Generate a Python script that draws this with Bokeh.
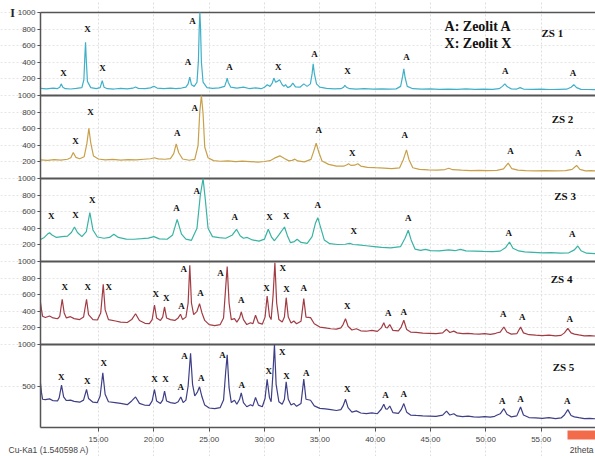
from bokeh.plotting import figure
from bokeh.models import FixedTicker, Label, ColumnDataSource, NumeralTickFormatter
from bokeh.core.properties import value
from bokeh.embed import file_html
from bokeh.resources import INLINE

# ---------------- data ----------------
x_ticks = [15, 20, 25, 30, 35, 40, 45, 50, 55]
y_ticks_panel = [200, 400, 600, 800, 1000]
y_ticks_last = [500, 1000]
samples = ["ZS 1", "ZS 2", "ZS 3", "ZS 4", "ZS 5"]
line_colors = ["#3fb0c8", "#c9a04a", "#38b3a4", "#a23c44", "#3e3f86"]
two_theta_min, two_theta_max = 9.76, 59.91

# (2theta, intensity)
zs1 = [(9.76, 85), (10.3, 80), (10.9, 88), (11.3, 84), (11.5, 100), (11.63, 140), (11.78, 100),
       (12.0, 82), (12.5, 78), (13.0, 85), (13.5, 95), (13.68, 190), (13.76, 450), (13.83, 640),
       (13.9, 420), (14.0, 170), (14.3, 95), (14.8, 82), (15.15, 95), (15.34, 180), (15.5, 100),
       (15.8, 82), (16.4, 78), (17.0, 85), (17.6, 80), (18.1, 88), (18.35, 102), (18.6, 86),
       (19.2, 82), (19.7, 92), (20.0, 112), (20.3, 90), (20.9, 82), (21.5, 88), (22.0, 84),
       (22.5, 90), (22.9, 100), (23.1, 140), (23.25, 220), (23.4, 130), (23.65, 110), (23.9, 160),
       (24.03, 420), (24.1, 800), (24.16, 1000), (24.22, 820), (24.3, 400), (24.45, 160),
       (24.8, 95), (25.3, 85), (25.9, 92), (26.4, 110), (26.55, 170), (26.63, 210), (26.72, 160),
       (26.95, 100), (27.5, 88), (28.1, 100), (28.6, 84), (29.2, 92), (29.7, 82), (30.0, 100),
       (30.25, 130), (30.5, 110), (30.7, 150), (30.85, 210), (31.0, 160), (31.15, 170),
       (31.36, 190), (31.6, 130), (31.75, 110), (31.9, 130), (32.1, 95), (32.35, 110),
       (32.56, 150), (32.8, 105), (33.2, 100), (33.55, 140), (33.85, 110), (34.15, 140),
       (34.3, 260), (34.4, 382), (34.5, 270), (34.7, 140), (35.0, 100), (35.6, 85), (36.3, 80),
       (36.9, 82), (37.15, 100), (37.26, 122), (37.4, 100), (37.7, 82), (38.3, 78), (39.0, 82),
       (39.8, 76), (40.6, 80), (41.3, 76), (41.9, 80), (42.3, 110), (42.48, 230), (42.59, 320),
       (42.7, 220), (42.9, 110), (43.4, 82), (44.2, 76), (45.0, 80), (45.8, 74), (46.6, 78),
       (47.4, 74), (48.2, 80), (49.0, 74), (49.8, 76), (50.6, 74), (51.2, 82), (51.5, 110),
       (51.72, 140), (51.95, 105), (52.3, 80), (52.8, 78), (53.1, 95), (53.4, 78), (54.2, 74),
       (55.0, 76), (55.8, 72), (56.6, 74), (57.3, 76), (57.7, 100), (57.95, 130), (58.2, 95),
       (58.6, 74), (59.2, 72), (59.9, 70)]

zs2 = [(9.76, 225), (10.4, 218), (11.0, 228), (11.6, 222), (12.2, 232), (12.5, 250), (12.72, 313),
       (12.95, 255), (13.3, 238), (13.7, 262), (13.95, 420), (14.13, 606), (14.3, 430),
       (14.55, 270), (15.0, 235), (15.6, 225), (16.3, 230), (17.0, 222), (17.7, 228), (18.4, 224),
       (19.1, 232), (19.7, 238), (20.05, 250), (20.4, 236), (21.0, 232), (21.5, 240), (21.8, 300),
       (22.02, 418), (22.25, 310), (22.6, 235), (23.2, 220), (23.7, 230), (24.0, 400),
       (24.15, 800), (24.3, 1000), (24.45, 780), (24.6, 380), (24.9, 250), (25.4, 215),
       (26.0, 208), (26.7, 212), (27.4, 204), (28.0, 210), (28.7, 204), (29.4, 198), (30.0, 205),
       (30.5, 215), (30.9, 245), (31.39, 273), (31.8, 240), (32.2, 212), (32.5, 218),
       (32.75, 233), (33.0, 212), (33.6, 200), (34.2, 230), (34.45, 330), (34.67, 425),
       (34.9, 320), (35.2, 210), (35.8, 170), (36.5, 150), (37.2, 150), (37.45, 165),
       (37.6, 177), (37.8, 158), (38.15, 160), (38.43, 177), (38.7, 150), (39.3, 135),
       (40.0, 130), (40.8, 125), (41.5, 120), (42.2, 128), (42.55, 230), (42.83, 345),
       (43.05, 230), (43.4, 130), (44.0, 110), (44.8, 104), (45.6, 100), (46.3, 108),
       (46.66, 124), (47.0, 106), (47.8, 100), (48.6, 96), (49.4, 98), (50.2, 94), (51.0, 98),
       (51.6, 115), (52.02, 185), (52.35, 118), (52.9, 100), (53.6, 95), (54.5, 92), (55.4, 96),
       (56.3, 92), (57.2, 94), (57.8, 110), (58.2, 157), (58.5, 110), (59.0, 92), (59.5, 95),
       (59.9, 92)]

zs3 = [(9.76, 265), (10.1, 290), (10.4, 330), (10.58, 347), (10.8, 320), (11.2, 290), (11.7, 300),
       (12.2, 305), (12.55, 350), (12.83, 416), (13.1, 350), (13.5, 300), (13.9, 360),
       (14.22, 588), (14.5, 380), (14.9, 295), (15.5, 280), (16.0, 290), (16.39, 328),
       (16.8, 290), (17.5, 270), (18.2, 268), (18.9, 275), (19.5, 282), (20.0, 300), (20.5, 272),
       (21.2, 268), (21.7, 320), (22.11, 508), (22.5, 330), (22.9, 270), (23.4, 255), (23.9, 400),
       (24.2, 800), (24.45, 1000), (24.65, 750), (24.9, 400), (25.3, 300), (25.9, 288),
       (26.5, 280), (27.1, 320), (27.47, 388), (27.8, 310), (28.1, 280), (28.44, 290),
       (28.9, 260), (29.5, 245), (30.0, 270), (30.34, 388), (30.65, 290), (30.9, 250),
       (31.3, 320), (31.81, 416), (32.1, 300), (32.35, 227), (32.7, 240), (32.95, 267),
       (33.3, 230), (33.86, 219), (34.3, 300), (34.6, 460), (34.82, 528), (35.05, 420),
       (35.4, 260), (35.9, 215), (36.6, 205), (37.3, 208), (37.71, 219), (38.0, 205), (38.5, 200),
       (39.2, 190), (39.9, 180), (40.6, 170), (41.4, 165), (42.3, 180), (42.7, 280), (42.99, 376),
       (43.25, 260), (43.6, 150), (44.1, 135), (44.55, 147), (45.0, 132), (45.8, 128),
       (46.66, 140), (47.2, 130), (47.71, 147), (48.2, 128), (49.0, 125), (49.8, 122),
       (50.6, 120), (51.3, 125), (51.8, 170), (52.14, 235), (52.45, 160), (52.98, 127),
       (53.5, 115), (54.3, 110), (55.1, 105), (55.9, 108), (56.7, 100), (57.5, 105), (58.0, 140),
       (58.31, 187), (58.6, 130), (59.1, 100), (59.9, 94)]

zs4 = [(9.76, 504), (9.85, 420), (9.95, 340), (10.2, 325), (10.58, 343), (10.9, 320), (11.3, 310),
       (11.5, 340), (11.72, 545), (11.9, 380), (12.1, 320), (12.47, 335), (12.8, 312),
       (13.3, 300), (13.65, 330), (13.92, 545), (14.1, 360), (14.5, 300), (14.9, 295),
       (15.2, 380), (15.43, 725), (15.6, 420), (15.9, 300), (16.54, 283), (17.0, 270),
       (17.6, 265), (18.0, 300), (18.35, 371), (18.7, 290), (19.2, 255), (19.6, 251),
       (19.85, 300), (20.06, 476), (20.25, 320), (20.6, 290), (20.8, 330), (20.97, 452),
       (21.15, 320), (21.5, 300), (21.9, 290), (22.2, 320), (22.41, 364), (22.6, 300),
       (22.9, 330), (23.1, 500), (23.25, 954), (23.4, 500), (23.6, 360), (23.9, 400),
       (24.13, 492), (24.35, 380), (24.6, 290), (25.0, 240), (25.5, 228), (26.0, 240),
       (26.3, 320), (26.5, 700), (26.63, 938), (26.8, 500), (27.0, 300), (27.29, 311),
       (27.5, 270), (27.75, 320), (27.9, 392), (28.1, 300), (28.4, 240), (28.74, 263),
       (28.95, 250), (29.19, 352), (29.45, 260), (29.8, 245), (30.05, 330), (30.24, 584),
       (30.45, 340), (30.6, 300), (30.78, 600), (30.94, 986), (31.1, 500), (31.3, 300),
       (31.6, 270), (31.8, 330), (31.96, 564), (32.15, 330), (32.4, 260), (32.65, 283),
       (32.9, 250), (33.3, 280), (33.55, 552), (33.75, 330), (34.16, 323), (34.5, 250),
       (35.0, 210), (35.5, 200), (36.0, 190), (36.5, 185), (36.9, 200), (37.1, 240), (37.32, 310),
       (37.55, 220), (37.9, 175), (38.3, 190), (38.7, 165), (39.2, 160), (39.7, 170), (40.2, 158),
       (40.55, 200), (40.78, 263), (40.95, 205), (41.1, 200), (41.32, 240), (41.6, 170),
       (42.1, 165), (42.35, 210), (42.59, 292), (42.85, 180), (43.2, 150), (43.7, 145),
       (44.3, 138), (44.9, 135), (45.5, 130), (46.1, 140), (46.45, 183), (46.75, 145),
       (47.11, 161), (47.4, 140), (47.9, 130), (48.4, 135), (48.9, 128), (49.4, 125),
       (49.9, 130), (50.4, 122), (50.8, 130), (51.03, 142), (51.3, 150), (51.63, 211),
       (51.9, 150), (52.3, 125), (52.8, 130), (53.14, 211), (53.4, 140), (53.9, 118), (54.5, 112),
       (55.1, 108), (55.7, 112), (56.3, 105), (56.8, 110), (57.1, 140), (57.41, 195), (57.7, 140),
       (58.0, 125), (58.4, 115), (58.9, 105), (59.4, 108), (59.9, 102)]

zs5 = [(9.76, 531), (9.85, 420), (9.95, 340), (10.2, 335), (10.58, 345), (10.9, 322), (11.3, 320),
       (11.45, 360), (11.66, 510), (11.85, 370), (12.1, 325), (12.47, 330), (12.8, 315),
       (13.3, 305), (13.65, 330), (13.92, 458), (14.1, 350), (14.5, 305), (14.9, 300),
       (15.15, 380), (15.39, 660), (15.6, 400), (15.9, 310), (16.5, 300), (17.0, 290),
       (17.6, 275), (18.0, 320), (18.35, 368), (18.7, 290), (19.2, 268), (19.6, 267),
       (19.85, 320), (20.06, 458), (20.25, 320), (20.6, 290), (20.8, 330), (20.97, 437),
       (21.15, 320), (21.5, 300), (21.9, 290), (22.2, 310), (22.44, 368), (22.65, 300),
       (22.9, 330), (23.1, 500), (23.32, 895), (23.5, 520), (23.7, 380), (23.95, 430),
       (24.13, 490), (24.35, 370), (24.6, 270), (25.0, 235), (25.5, 227), (26.0, 240),
       (26.3, 330), (26.5, 680), (26.63, 875), (26.8, 480), (27.0, 300), (27.29, 328),
       (27.5, 280), (27.75, 340), (27.9, 417), (28.1, 300), (28.4, 250), (28.74, 275),
       (28.95, 260), (29.19, 361), (29.45, 270), (29.8, 250), (30.05, 350), (30.24, 580),
       (30.45, 360), (30.6, 310), (30.75, 620), (30.9, 996), (31.05, 520), (31.3, 310),
       (31.6, 280), (31.8, 340), (31.96, 550), (32.15, 340), (32.4, 270), (32.65, 290),
       (32.9, 255), (33.3, 290), (33.55, 583), (33.75, 340), (34.16, 328), (34.5, 260),
       (35.0, 231), (35.5, 225), (36.0, 215), (36.5, 205), (36.9, 215), (37.1, 260), (37.32, 340),
       (37.55, 240), (37.9, 186), (38.3, 200), (38.7, 175), (39.2, 168), (39.7, 176), (40.2, 166),
       (40.55, 220), (40.78, 279), (40.95, 225), (41.1, 220), (41.32, 259), (41.6, 180),
       (42.1, 170), (42.35, 215), (42.59, 288), (42.85, 185), (43.2, 150), (43.7, 145),
       (44.3, 140), (44.9, 138), (45.5, 135), (46.1, 150), (46.45, 198), (46.75, 150),
       (47.11, 166), (47.4, 140), (47.9, 132), (48.4, 138), (48.9, 128), (49.4, 126),
       (49.9, 130), (50.4, 124), (50.8, 135), (51.03, 150), (51.3, 165), (51.63, 227),
       (51.9, 160), (52.3, 128), (52.8, 140), (53.14, 247), (53.4, 150), (53.9, 120), (54.5, 115),
       (55.1, 110), (55.7, 118), (56.3, 108), (56.8, 115), (57.1, 150), (57.41, 215), (57.7, 145),
       (58.0, 128), (58.4, 118), (58.9, 108), (59.4, 110), (59.9, 105)]

# peak markers (2theta, intensity, phase letter)
marks_zs1 = [(11.84, 277, "X"), (14.01, 807, "X"), (15.37, 337, "X"), (23.09, 398, "A"),
             (23.5, 892, "A"), (26.84, 349, "A"), (31.24, 349, "X"), (34.52, 506, "A"),
             (37.5, 293, "X"), (42.83, 458, "A"), (51.76, 301, "A"), (57.87, 277, "A")]
marks_zs2 = [(12.93, 446, "X"), (14.28, 807, "X"), (22.11, 546, "A"), (23.7, 847, "A"),
             (34.91, 587, "A"), (37.93, 305, "X"), (42.68, 527, "A"), (52.23, 337, "A"),
             (58.35, 305, "A")]
marks_zs3 = [(10.73, 548, "X"), (12.92, 560, "X"), (14.43, 737, "X"), (22.05, 641, "A"),
             (23.89, 850, "A"), (27.32, 540, "A"), (30.45, 540, "X"), (31.96, 548, "X"),
             (34.82, 677, "A"), (38.07, 368, "X"), (42.99, 528, "A"), (52.08, 347, "A"),
             (57.81, 335, "A")]
marks_zs4 = [(11.96, 693, "X"), (14.04, 693, "X"), (15.93, 693, "X"), (20.18, 605, "X"),
             (21.12, 560, "X"), (22.5, 464, "A"), (22.71, 904, "A"), (24.22, 624, "A"),
             (26.03, 858, "A"), (27.9, 533, "A"), (30.18, 677, "X"), (31.66, 925, "X"),
             (31.99, 665, "X"), (33.55, 677, "A"), (37.48, 464, "X"), (41.18, 383, "A"),
             (42.59, 395, "A"), (51.57, 364, "A"), (53.29, 331, "A"), (57.59, 304, "A")]
marks_zs5 = [(11.63, 611, "X"), (13.98, 563, "X"), (15.48, 774, "X"), (20.06, 580, "X"),
             (21.06, 580, "X"), (22.44, 482, "A"), (22.77, 863, "A"), (24.28, 592, "A"),
             (26.21, 875, "A"), (27.95, 510, "A"), (30.39, 684, "X"), (31.6, 915, "X"),
             (31.99, 620, "X"), (33.77, 652, "A"), (37.48, 458, "X"), (40.94, 389, "A"),
             (42.59, 401, "A"), (51.48, 320, "A"), (53.13, 349, "A"), (57.35, 320, "A")]

patterns = [zs1, zs2, zs3, zs4, zs5]
marks = [marks_zs1, marks_zs2, marks_zs3, marks_zs4, marks_zs5]

# ---------------- figure ----------------
PANEL = 1000
n = len(samples)
W, H = 595, 456
LEFT, TOP, BOTTOM = 40, 12, 427          # pixel box of the stacked panels
px_per_deg = (W - LEFT) / (two_theta_max - two_theta_min)
px_per_unit = (BOTTOM - TOP) / (PANEL * n)
x_start = two_theta_min - LEFT / px_per_deg
y_start = -(H - BOTTOM) / px_per_unit
y_end = PANEL * n + TOP / px_per_unit

p = figure(width=W, height=H, x_range=(x_start, two_theta_max), y_range=(y_start, y_end),
           output_backend="svg", toolbar_location=None, min_border=0)
p.background_fill_color = "white"
p.border_fill_color = "white"
p.outline_line_color = None

serif = "Liberation Serif"
sans = "Liberation Sans"

# y ticks (each panel has its own 0..1000 scale)
ticks = []
overrides = {}
for i in range(n):
    off = (n - 1 - i) * PANEL
    tv = y_ticks_last if i == n - 1 else y_ticks_panel
    for t in tv:
        ticks.append(off + t)
        overrides[off + t] = str(t)

p.yaxis.fixed_location = two_theta_min
p.yaxis.bounds = (0, PANEL * n)
p.yaxis.ticker = FixedTicker(ticks=ticks)
p.yaxis.major_label_overrides = overrides
p.yaxis.minor_tick_line_color = None
p.yaxis.major_tick_out = 3
p.yaxis.major_tick_in = 0
p.yaxis.major_label_standoff = 2
p.yaxis.axis_line_color = "#555555"
p.yaxis.axis_line_width = 1.5
p.yaxis.major_tick_line_color = "#555555"
p.yaxis.major_label_text_font = sans
p.yaxis.major_label_text_font_size = "8px"
p.yaxis.major_label_text_color = "#444444"

p.xaxis.fixed_location = 0
p.xaxis.bounds = (two_theta_min, two_theta_max)
p.xaxis.ticker = FixedTicker(ticks=x_ticks)
p.xaxis.formatter = NumeralTickFormatter(format="0.00")
p.xaxis.minor_tick_line_color = None
p.xaxis.major_tick_out = 4
p.xaxis.major_tick_in = 0
p.xaxis.major_label_standoff = 5
p.xaxis.axis_line_color = "#555555"
p.xaxis.axis_line_width = 1.5
p.xaxis.major_tick_line_color = "#555555"
p.xaxis.major_label_text_font = sans
p.xaxis.major_label_text_font_size = "8px"
p.xaxis.major_label_text_color = "#444444"

p.xgrid.bounds = (0, PANEL * n)
p.xgrid.grid_line_color = "#dedede"
p.xgrid.grid_line_dash = "2 2"
p.ygrid.bounds = (two_theta_min, two_theta_max)
p.ygrid.grid_line_color = "#e4e4e4"
p.ygrid.grid_line_dash = "2 2"

# panel separators and top border
sep_y = [k * PANEL for k in range(1, n + 1)]
p.segment(x0=[two_theta_min] * n, x1=[two_theta_max] * n, y0=sep_y, y1=sep_y,
          line_color="#555555", line_width=[2] * (n - 1) + [1.5])

for i, (pat, col) in enumerate(zip(patterns, line_colors)):
    off = (n - 1 - i) * PANEL
    xs = [a for a, b in pat]
    ys = [b + off for a, b in pat]
    p.line(xs, ys, line_color=col, line_width=1.2)

    src = ColumnDataSource(dict(x=[m[0] for m in marks[i]],
                                y=[m[1] + off for m in marks[i]],
                                t=[m[2] for m in marks[i]]))
    p.text(x="x", y="y", text="t", source=src, text_font=value(serif),
           text_font_style="bold", text_font_size="9px", text_color="#111111",
           text_align="center", text_baseline="middle")

# sample names
name_pos = [(56.01, 759), (56.93, 711), (57.16, 789), (56.84, 789), (57.02, 729)]
for i, (s, (nx, ny)) in enumerate(zip(samples, name_pos)):
    off = (n - 1 - i) * PANEL
    p.add_layout(Label(x=nx, y=ny + off, text=s, text_font=serif, text_font_style="bold",
                       text_font_size="11px", text_align="center", text_baseline="middle",
                       text_color="#111111"))

# phase legend
p.add_layout(Label(x=46.27, y=4831, text="A: Zeolit A", text_font=serif, text_font_style="bold",
                   text_font_size="14px", text_align="left", text_baseline="middle",
                   text_color="#111111"))
p.add_layout(Label(x=46.27, y=4627, text="X: Zeolit X", text_font=serif, text_font_style="bold",
                   text_font_size="14px", text_align="left", text_baseline="middle",
                   text_color="#111111"))

# outer texts
p.add_layout(Label(x=x_start + 12 / px_per_deg, y=PANEL * n, text="I",
                   text_font=serif, text_font_style="bold", text_font_size="12px",
                   text_align="center", text_baseline="middle", text_color="#222222"))
p.add_layout(Label(x=x_start + 8 / px_per_deg, y=-22 / px_per_unit,
                   text="Cu-Ka1 (1.540598 A)", text_font=sans, text_font_size="8.5px",
                   text_align="left", text_baseline="middle", text_color="#444444"))
p.add_layout(Label(x=x_start + 593 / px_per_deg, y=-22 / px_per_unit,
                   text="2theta", text_font=sans, text_font_size="8.5px",
                   text_align="right", text_baseline="middle", text_color="#444444"))
p.quad(left=[x_start + 567 / px_per_deg], right=[two_theta_max],
       bottom=[-12 / px_per_unit], top=[-3 / px_per_unit],
       fill_color="#f26b4a", line_color=None)

open("out.html", "w").write(file_html(p, INLINE))
